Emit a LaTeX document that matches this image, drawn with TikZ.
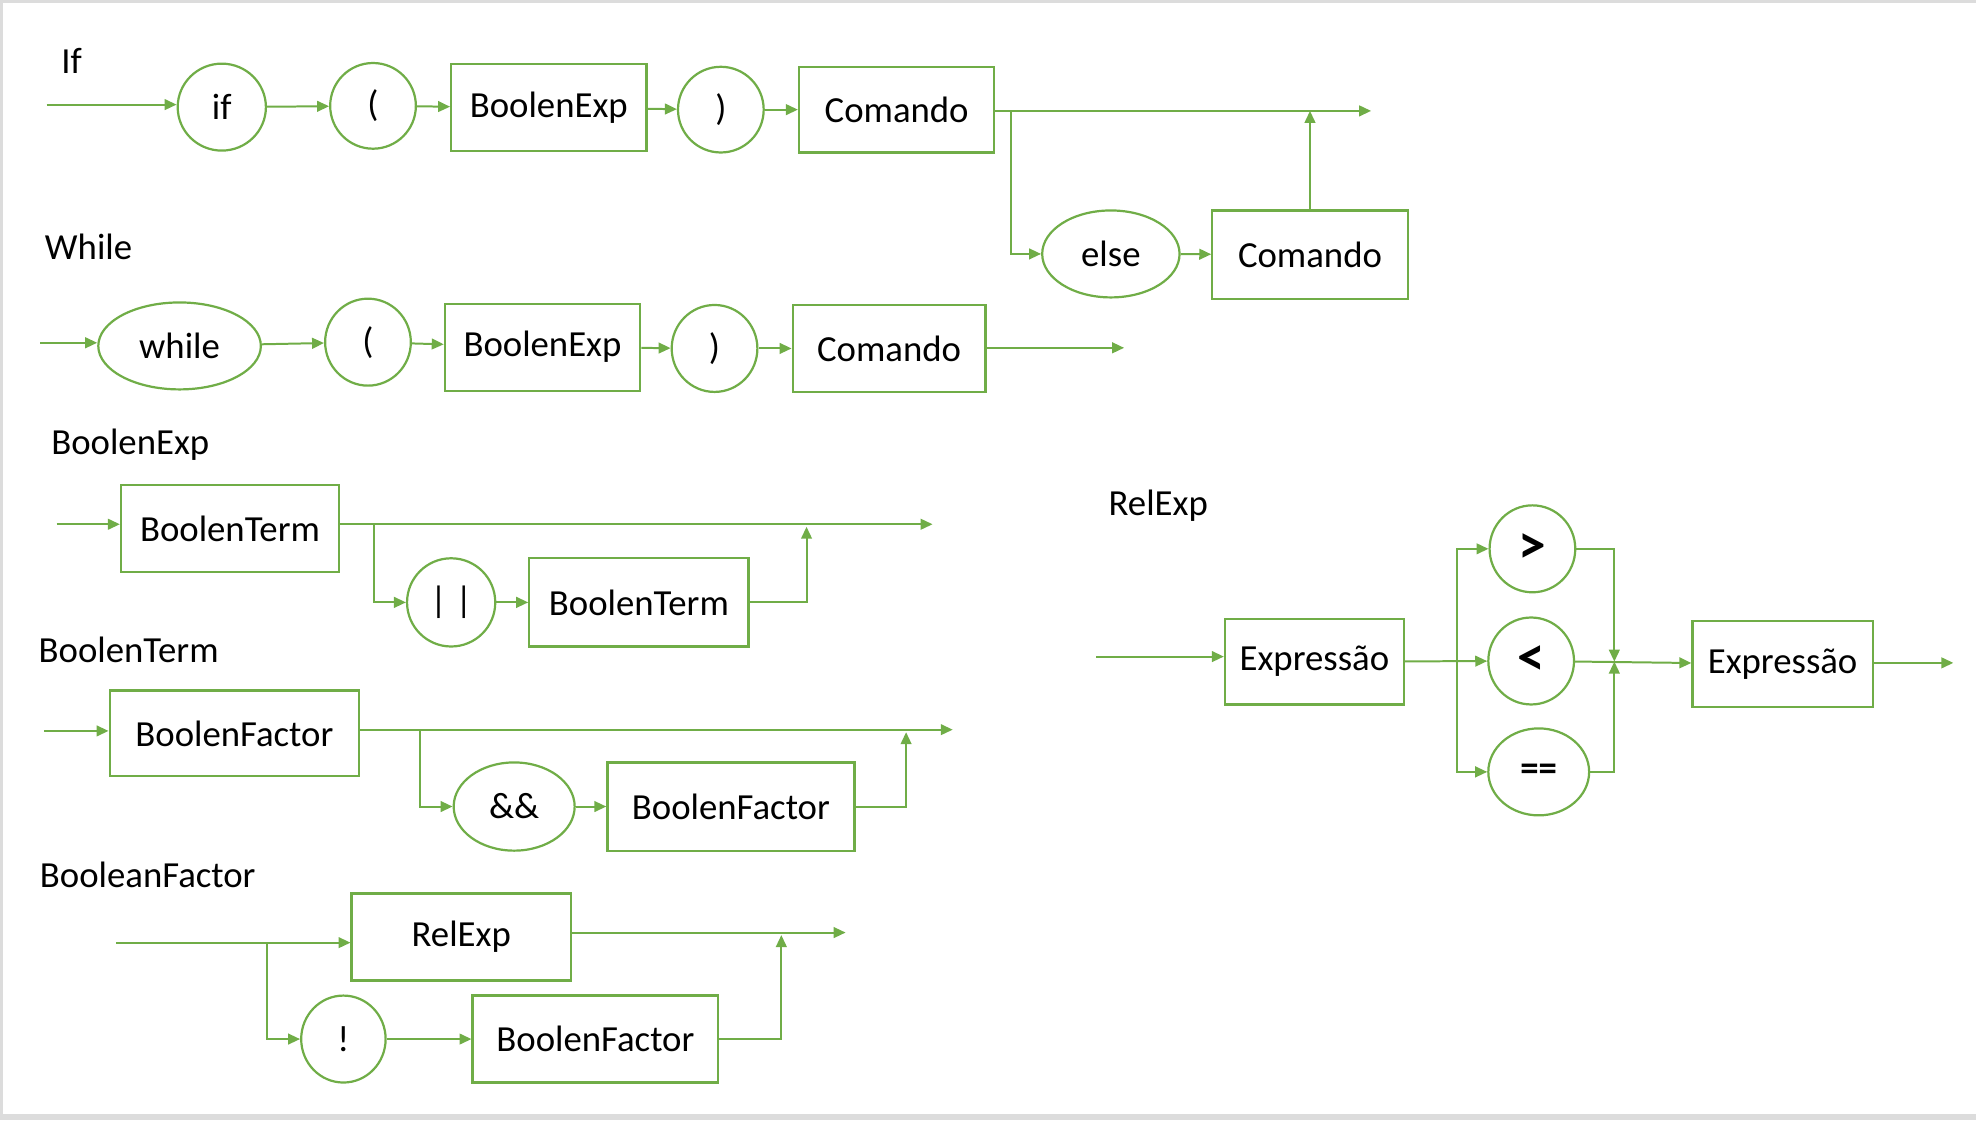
\documentclass[tikz,border=0pt]{standalone}
\usepackage{fontspec}
\setmainfont{Carlito}
\usetikzlibrary{shapes.geometric,arrows.meta}
\definecolor{railgreen}{HTML}{70AD47}
\definecolor{framegray}{HTML}{DCDCDC}
\tikzset{>={Triangle[length=0.095cm,width=0.085cm]}}

\begin{document}
\begin{tikzpicture}[
  every node/.style={font=\fontsize{8.3}{10}\selectfont},
  term/.style={ellipse, draw=railgreen, line width=0.5pt, inner sep=0pt},
  nonterm/.style={rectangle, draw=railgreen, line width=0.5pt, inner sep=0pt},
  rail/.style={railgreen, line width=0.45pt},
  relop/.style={font=\fontsize{12.5}{14}\selectfont\bfseries},
  lbl/.style={anchor=west, inner sep=0pt}]
%\draw [help lines] (0,-8.89) grid (15.68,0);
\useasboundingbox (0,0) rectangle (15.68,-8.89);

% frame
\fill [framegray] (0,0) rectangle (15.68,-0.025);
\fill [framegray] (0,0) rectangle (0.02,-8.89);
\fill [framegray] (0,-8.84) rectangle (15.68,-8.89);

% rule If
\node [lbl] (lif) at (0.48,-0.48) {If};
\coordinate (ifin) at (0.37,-0.83);
\coordinate (ifout) at (10.88,-0.88);
\coordinate (ifsplit) at (8.02,-0.88);
\node [term, minimum width=0.70cm, minimum height=0.69cm] (ifkw) at (1.76,-0.85) {if};
\node [term, minimum width=0.68cm, minimum height=0.68cm] (ifpar) at (2.96,-0.84) {(};
\node [nonterm, minimum width=1.55cm, minimum height=0.69cm] (ifexp) at (4.355,-0.855) {BoolenExp};
\node [term, minimum width=0.68cm, minimum height=0.68cm] (ifpcl) at (5.72,-0.87) {)};
\node [nonterm, minimum width=1.55cm, minimum height=0.68cm] (ifcmd) at (7.115,-0.87) {Comando};
\node [term, minimum width=1.09cm, minimum height=0.69cm] (elsekw) at (8.815,-2.015) {else};
\node [nonterm, minimum width=1.55cm, minimum height=0.70cm] (elsecmd) at (10.395,-2.02) {Comando};
\draw [->, rail] (ifin) -- (ifin -| ifkw.west);
\draw [->, rail] (ifkw) -- (ifpar);
\draw [->, rail] (ifpar) -- (ifexp);
\draw [->, rail] (ifexp) -- (ifpcl);
\draw [->, rail] (ifpcl) -- (ifcmd);
\draw [->, rail] (ifcmd.east |- ifout) -- (ifout);
\draw [->, rail] (ifsplit) |- (elsekw.west);
\draw [->, rail] (elsekw) -- (elsecmd);
\draw [->, rail] (elsecmd.north) -- (elsecmd.north |- ifout);

% rule While
\node [lbl] (lwhile) at (0.35,-1.96) {While};
\coordinate (whin) at (0.32,-2.72);
\coordinate (whout) at (8.92,-2.76);
\node [term, minimum width=1.29cm, minimum height=0.69cm] (whkw) at (1.425,-2.745) {while};
\node [term, minimum width=0.68cm, minimum height=0.69cm] (whpar) at (2.92,-2.715) {(};
\node [nonterm, minimum width=1.55cm, minimum height=0.69cm] (whexp) at (4.305,-2.755) {BoolenExp};
\node [term, minimum width=0.68cm, minimum height=0.69cm] (whpcl) at (5.67,-2.765) {)};
\node [nonterm, minimum width=1.53cm, minimum height=0.69cm] (whcmd) at (7.055,-2.765) {Comando};
\draw [->, rail] (whin) -- (whin -| whkw.west);
\draw [->, rail] (whkw) -- (whpar);
\draw [->, rail] (whpar) -- (whexp);
\draw [->, rail] (whexp) -- (whpcl);
\draw [->, rail] (whpcl) -- (whcmd);
\draw [->, rail] (whcmd.east |- whout) -- (whout);

% rule BoolenExp
\node [lbl] (lbexp) at (0.40,-3.53) {BoolenExp};
\coordinate (bein) at (0.45,-4.16);
\coordinate (beout) at (7.40,-4.16);
\coordinate (besplit) at (2.97,-4.16);
\coordinate (bejoin) at (6.40,-4.18);
\node [nonterm, minimum width=1.73cm, minimum height=0.69cm] (bet1) at (1.825,-4.195) {BoolenTerm};
\node [term, minimum width=0.70cm, minimum height=0.70cm] (beor) at (3.58,-4.78) {| |};
\node [nonterm, minimum width=1.74cm, minimum height=0.70cm] (bet2) at (5.07,-4.78) {BoolenTerm};
\draw [->, rail] (bein) -- (bein -| bet1.west);
\draw [->, rail] (bet1.east |- beout) -- (beout);
\draw [->, rail] (besplit) |- (beor.west);
\draw [->, rail] (beor) -- (bet2);
\draw [->, rail] (bet2.east) -| (bejoin);

% rule BoolenTerm
\node [lbl] (lbterm) at (0.30,-5.16) {BoolenTerm};
\coordinate (btin) at (0.35,-5.80);
\coordinate (btout) at (7.56,-5.79);
\coordinate (btsplit) at (3.33,-5.79);
\coordinate (btjoin) at (7.19,-5.81);
\node [nonterm, minimum width=1.98cm, minimum height=0.68cm] (btf1) at (1.86,-5.82) {BoolenFactor};
\node [term, minimum width=0.96cm, minimum height=0.70cm] (btand) at (4.08,-6.40) {\&\&};
\node [nonterm, minimum width=1.96cm, minimum height=0.70cm] (btf2) at (5.80,-6.40) {BoolenFactor};
\draw [->, rail] (btin) -- (btin -| btf1.west);
\draw [->, rail] (btf1.east |- btout) -- (btout);
\draw [->, rail] (btsplit) |- (btand.west);
\draw [->, rail] (btand) -- (btf2);
\draw [->, rail] (btf2.east) -| (btjoin);

% rule BooleanFactor
\node [lbl] (lbfact) at (0.31,-6.94) {BooleanFactor};
\coordinate (bfin) at (0.92,-7.48);
\coordinate (bfout) at (6.71,-7.40);
\coordinate (bfsplit) at (2.12,-7.48);
\coordinate (bfjoin) at (6.20,-7.42);
\node [nonterm, minimum width=1.74cm, minimum height=0.69cm] (bfrel) at (3.66,-7.435) {RelExp};
\node [term, minimum width=0.67cm, minimum height=0.69cm] (bfnot) at (2.725,-8.245) {!};
\node [nonterm, minimum width=1.95cm, minimum height=0.69cm] (bff) at (4.725,-8.245) {BoolenFactor};
\draw [->, rail] (bfin) -- (bfin -| bfrel.west);
\draw [->, rail] (bfrel.east |- bfout) -- (bfout);
\draw [->, rail] (bfsplit) |- (bfnot.west);
\draw [->, rail] (bfnot) -- (bff);
\draw [->, rail] (bff.east) -| (bfjoin);

% rule RelExp
\node [lbl] (lrel) at (8.79,-4.01) {RelExp};
\coordinate (rein) at (8.70,-5.21);
\coordinate (reout) at (15.50,-5.26);
\coordinate (resplit) at (11.56,-5.25);
\coordinate (rejoin) at (12.81,-5.25);
\node [nonterm, minimum width=1.42cm, minimum height=0.68cm] (rex1) at (10.43,-5.25) {Expressão};
\node [term, relop, minimum width=0.68cm, minimum height=0.69cm] (rgt) at (12.16,-4.355) {>};
\node [term, relop, minimum width=0.68cm, minimum height=0.69cm] (rlt) at (12.15,-5.245) {<};
\node [term, minimum width=0.80cm, minimum height=0.69cm, font=\fontsize{8.3}{10}\selectfont\bfseries] (req) at (12.21,-6.125) {==};
\node [nonterm, minimum width=1.43cm, minimum height=0.68cm] (rex2) at (14.145,-5.27) {Expressão};
\draw [->, rail] (rein) -- (rein -| rex1.west);
\draw [->, rail] (rex1) -- (rlt);
\draw [->, rail] (resplit) |- (rgt.west);
\draw [->, rail] (resplit) |- (req.west);
\draw [->, rail] (rlt) -- (rex2);
\draw [->, rail] (rgt.east) -| (rejoin);
\draw [->, rail] (req.east) -| (rejoin);
\draw [->, rail] (rex2.east |- reout) -- (reout);

\end{tikzpicture}
\end{document}
